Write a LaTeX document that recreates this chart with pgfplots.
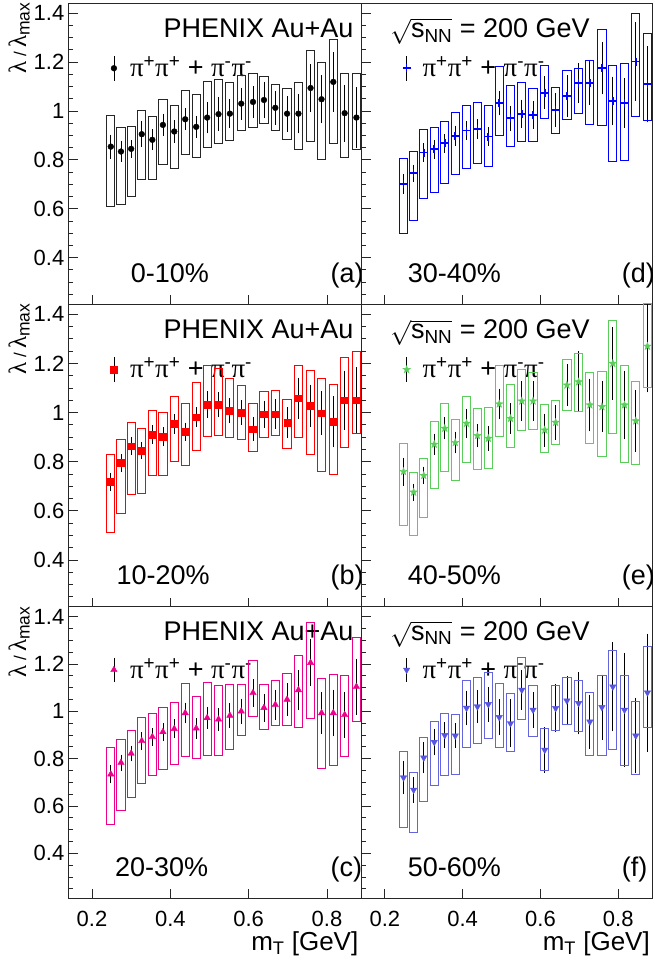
\documentclass[border=0pt]{standalone}
\usepackage{pgfplots}
\pgfplotsset{compat=1.18}
\usepackage{pgfplotstable}
\usepackage{fontspec}
\setmainfont{Liberation Sans}
\newfontfamily\grk{Liberation Serif}
\usetikzlibrary{plotmarks}

\definecolor{egreen}{RGB}{90,205,90}
\definecolor{fblue}{RGB}{85,85,225}
\definecolor{fbox}{RGB}{100,100,220}

% filled five-point star
\pgfdeclareplotmark{fstar}{%
  \pgfpathmoveto{\pgfpointpolar{90}{\pgfplotmarksize}}%
  \pgfpathlineto{\pgfpointpolar{126}{0.4\pgfplotmarksize}}%
  \pgfpathlineto{\pgfpointpolar{162}{\pgfplotmarksize}}%
  \pgfpathlineto{\pgfpointpolar{198}{0.4\pgfplotmarksize}}%
  \pgfpathlineto{\pgfpointpolar{234}{\pgfplotmarksize}}%
  \pgfpathlineto{\pgfpointpolar{270}{0.4\pgfplotmarksize}}%
  \pgfpathlineto{\pgfpointpolar{306}{\pgfplotmarksize}}%
  \pgfpathlineto{\pgfpointpolar{342}{0.4\pgfplotmarksize}}%
  \pgfpathlineto{\pgfpointpolar{18}{\pgfplotmarksize}}%
  \pgfpathlineto{\pgfpointpolar{54}{0.4\pgfplotmarksize}}%
  \pgfpathclose\pgfusepathqfillstroke}

% systematic box drawn upward from the lower edge, \boxh tall (pt)
\pgfdeclareplotmark{sysbox}{%
  \pgfpathrectangle{\pgfpoint{-4.1pt}{0pt}}{\pgfpoint{8.2pt}{\boxh pt}}%
  \pgfusepathqstroke}

% x  y  stat  syslow  syshigh
\pgfplotstableread{
x y e lo hi
0.248 0.854 0.041 0.609 0.981
0.274 0.834 0.033 0.619 0.933
0.300 0.845 0.029 0.652 0.936
0.327 0.905 0.044 0.718 1.000
0.354 0.882 0.034 0.718 0.978
0.381 0.943 0.038 0.779 1.045
0.410 0.916 0.038 0.765 1.022
0.438 0.966 0.036 0.822 1.084
0.466 0.935 0.038 0.811 1.069
0.494 0.973 0.056 0.852 1.120
0.523 0.987 0.060 0.868 1.127
0.552 0.989 0.050 0.880 1.116
0.581 1.030 0.057 0.920 1.146
0.611 1.037 0.057 0.933 1.152
0.639 1.045 0.067 0.950 1.141
0.668 1.013 0.061 0.922 1.109
0.698 0.989 0.065 0.884 1.090
0.727 0.989 0.072 0.841 1.118
0.758 1.094 0.089 0.877 1.246
0.786 1.048 0.090 0.800 1.200
0.816 1.119 0.113 0.865 1.294
0.845 0.991 0.108 0.811 1.155
0.875 0.973 0.116 0.841 1.155
}\tabA

\pgfplotstableread{
x y e lo hi
0.248 0.718 0.030 0.510 0.828
0.274 0.795 0.028 0.588 0.891
0.300 0.863 0.028 0.665 0.960
0.327 0.845 0.026 0.672 0.937
0.354 0.911 0.029 0.742 1.010
0.381 0.902 0.030 0.742 1.001
0.410 0.955 0.032 0.799 1.064
0.438 0.922 0.029 0.783 1.035
0.466 0.981 0.032 0.845 1.121
0.494 1.033 0.046 0.902 1.190
0.523 1.032 0.043 0.907 1.179
0.552 1.008 0.043 0.897 1.139
0.581 1.000 0.043 0.891 1.110
0.611 0.933 0.039 0.842 1.037
0.639 0.993 0.048 0.899 1.087
0.668 0.994 0.052 0.905 1.091
0.698 0.959 0.055 0.855 1.055
0.727 1.058 0.076 0.899 1.193
0.758 1.028 0.078 0.828 1.173
0.786 0.998 0.081 0.760 1.139
0.816 0.963 0.096 0.746 1.115
0.845 1.051 0.112 0.859 1.223
0.875 1.051 0.125 0.913 1.247
}\tabB

\pgfplotstableread{
x y e lo hi
0.248 0.734 0.030 0.520 0.848
0.274 0.783 0.026 0.583 0.883
0.300 0.822 0.025 0.637 0.918
0.327 0.875 0.028 0.696 0.973
0.354 0.892 0.030 0.728 0.991
0.381 0.913 0.030 0.755 1.017
0.410 0.926 0.032 0.777 1.037
0.438 0.993 0.035 0.808 1.118
0.466 0.928 0.035 0.801 1.062
0.494 0.972 0.038 0.813 1.123
0.523 0.966 0.040 0.813 1.108
0.552 0.982 0.045 0.837 1.114
0.581 1.000 0.045 0.896 1.114
0.611 1.078 0.050 0.977 1.214
0.639 1.015 0.050 0.925 1.115
0.668 1.028 0.055 0.938 1.130
0.698 1.050 0.060 0.938 1.161
0.727 1.090 0.075 0.931 1.235
0.758 1.205 0.090 0.970 1.375
0.786 0.993 0.080 0.759 1.139
0.816 0.993 0.090 0.773 1.154
0.845 0.985 0.090 0.808 1.151
0.875 1.104 0.110 0.956 1.311
}\tabC

\pgfplotstableread{
x y e lo hi
0.248 0.702 0.032 0.500 0.807
0.274 0.745 0.026 0.551 0.834
0.300 0.830 0.029 0.641 0.923
0.327 0.843 0.031 0.668 0.933
0.354 0.868 0.030 0.704 0.958
0.381 0.899 0.033 0.741 0.995
0.410 0.920 0.031 0.766 1.023
0.438 0.925 0.032 0.786 1.036
0.466 0.895 0.030 0.772 1.022
0.494 1.032 0.042 0.898 1.184
0.523 0.970 0.044 0.854 1.105
0.552 0.988 0.050 0.877 1.118
0.581 0.984 0.048 0.877 1.093
0.611 1.075 0.058 0.970 1.188
0.639 1.003 0.061 0.909 1.097
0.668 1.062 0.077 0.966 1.164
0.698 1.114 0.075 0.991 1.175
0.727 1.114 0.082 0.944 1.205
0.758 1.175 0.099 0.940 1.335
0.786 1.041 0.091 0.792 1.186
0.816 1.032 0.094 0.796 1.193
0.845 1.202 0.152 0.977 1.397
0.875 1.109 0.147 0.959 1.316
}\tabD

\pgfplotstableread{
x y e lo hi
0.248 0.760 0.049 0.539 0.875
0.274 0.676 0.027 0.499 0.756
0.300 0.744 0.028 0.575 0.815
0.327 0.871 0.035 0.692 0.964
0.354 0.936 0.037 0.760 1.035
0.381 0.878 0.036 0.722 0.972
0.410 0.956 0.051 0.798 1.064
0.438 0.906 0.039 0.769 1.017
0.466 0.895 0.043 0.773 1.022
0.494 1.035 0.054 0.902 1.192
0.523 0.976 0.054 0.859 1.114
0.552 1.047 0.073 0.929 1.175
0.581 1.047 0.072 0.932 1.162
0.611 0.929 0.059 0.837 1.031
0.639 0.960 0.062 0.871 1.051
0.668 1.112 0.078 1.010 1.217
0.698 1.125 0.116 1.006 1.240
0.727 1.031 0.099 0.875 1.163
0.758 1.024 0.095 0.821 1.166
0.786 1.200 0.141 0.916 1.373
0.816 1.031 0.132 0.798 1.193
0.845 0.966 0.117 0.787 1.125
0.875 1.270 0.180 1.102 1.442
}\tabE

\pgfplotstableread{
x y e lo hi
0.248 0.720 0.062 0.510 0.830
0.274 0.668 0.046 0.489 0.741
0.300 0.804 0.058 0.618 0.890
0.327 0.870 0.048 0.686 0.958
0.354 0.899 0.047 0.727 0.990
0.381 0.897 0.044 0.734 0.987
0.410 1.014 0.065 0.848 1.132
0.438 1.020 0.061 0.865 1.144
0.466 1.030 0.065 0.886 1.163
0.494 0.975 0.067 0.846 1.116
0.523 0.949 0.093 0.830 1.076
0.552 1.090 0.074 0.966 1.228
0.581 1.006 0.068 0.893 1.111
0.611 0.837 0.088 0.752 0.928
0.639 1.013 0.092 0.917 1.107
0.668 1.045 0.096 0.946 1.142
0.698 1.034 0.123 0.914 1.132
0.727 0.956 0.106 0.813 1.079
0.758 1.017 0.130 0.813 1.151
0.786 1.104 0.180 0.839 1.255
0.816 1.006 0.232 0.770 1.152
0.845 0.897 0.151 0.731 1.041
0.875 1.079 0.241 0.931 1.273
}\tabF

% systematic boxes as marks at the lower edge; #3 = pt per unit of y
\newcommand\sysboxes[3]{%
  \addplot[only marks, mark=sysbox, color=#2, forget plot,
    mark options={line width=1pt, draw=#2, fill=none, solid},
    visualization depends on={(\thisrow{hi}-\thisrow{lo})*#3 \as \boxh}]
    table[x=x, y=lo] {#1};
}

% points with stat. errors, plus the legend sample
\newcommand\points[2]{%
  \addplot[#2, only marks, error bars/.cd, y dir=both, y explicit,
    error bar style={line width=0.8pt, color=black},
    error mark options={color=black, line width=0.8pt, mark size=2pt}]
    table[x=x, y=y, y error=e] {#1};
  \addplot[#2, only marks, error bars/.cd, y dir=both, y explicit,
    error bar style={line width=0.8pt, color=black}, error mark=none]
    coordinates {(0.256,1.175) +- (0,0.052)};
}

\newcommand\txt{\fontsize{27}{32}\selectfont}
\newcommand\pipi{{\grk π}\textsuperscript{+}{\grk π}\textsuperscript{+} + {\grk π}\textsuperscript{-}{\grk π}\textsuperscript{-}}
\newcommand\sqrts{$\sqrt{\mbox{s\textsubscript{NN}}}$ = 200 GeV}
\newcommand\ylab{{\grk λ}\,{\fontsize{17}{17}\selectfont /}\,{\grk λ}\textsubscript{max}}

\pgfplotsset{
  panel/.style={scale only axis, anchor=south west,
    xmin=0.14, xmax=0.888, ymin=0.21, ymax=1.442,
    xtick={0.2,0.4,0.6,0.8}, ytick={0.4,0.6,0.8,1,1.2,1.4},
    minor ytick={0.25,0.3,0.35,0.45,0.5,0.55,0.65,0.7,0.75,0.85,0.9,0.95,1.05,1.1,1.15,1.25,1.3,1.35},
    xticklabels={}, yticklabels={},
    tick align=inside, xtick pos=bottom, ytick pos=left,
    major tick length=9pt, minor tick length=4.5pt,
    tick style={line width=0.8pt, color=black!85},
    axis line style={line width=0.9pt, color=black!85},
    tick label style={font=\fontsize{22}{26}\selectfont},
    xticklabel style={inner sep=0pt, anchor=north, yshift=-12.7pt},
    yticklabel style={inner sep=0pt, anchor=east, xshift=-4pt}},
  lcol/.style={panel, at={(68.5pt,#1)}, width=293pt,
    yticklabels={0.4,0.6,0.8,1,1.2,1.4}},
  rcol/.style={panel, at={(361.5pt,#1)}, width=291pt},
  bottomrow/.style={xticklabels={0.2,0.4,0.6,0.8}},
  mA/.style={color=black, mark=*, mark size=2.9pt},
  mB/.style={color=red, mark=square*, mark size=3.3pt},
  mC/.style={color=magenta, mark=triangle*, mark size=3.7pt},
  mD/.style={color=blue, mark=+, mark size=4pt, mark options={line width=1.7pt}},
  mE/.style={color=egreen, mark=fstar, mark size=4pt},
  mF/.style={color=fblue, mark=triangle*, mark size=3.7pt, mark options={rotate=180}},
}

\begin{document}
\begin{tikzpicture}
\useasboundingbox (0,0) rectangle (654pt,963pt);

% row 1  (301pt tall: 244.3pt per unit)
\begin{axis}[lcol=659pt, height=301pt]
  \sysboxes{\tabA}{black!85}{244.3}
  \points{\tabA}{mA}
  \node[anchor=base west, font=\txt] at (axis cs:0.374,1.30) {PHENIX Au+Au};
  \node[anchor=base west, font=\txt] at (axis cs:0.288,1.143) {\pipi};
  \node[anchor=base west, font=\txt] at (axis cs:0.290,0.30) {0-10\%};
  \node[anchor=base west, font=\txt] at (axis cs:0.80,0.30) {(a)};
\end{axis}
\begin{axis}[rcol=659pt, height=301pt]
  \sysboxes{\tabD}{blue}{244.3}
  \points{\tabD}{mD}
  \node[anchor=base west, font=\txt] at (axis cs:0.205,1.30) {\sqrts};
  \node[anchor=base west, font=\txt] at (axis cs:0.288,1.143) {\pipi};
  \node[anchor=base west, font=\txt] at (axis cs:0.250,0.30) {30-40\%};
  \node[anchor=base west, font=\txt] at (axis cs:0.80,0.30) {(d)};
\end{axis}

% row 2  (302.7pt tall: 245.7pt per unit)
\begin{axis}[lcol=356.3pt, height=302.7pt]
  \sysboxes{\tabB}{red}{245.7}
  \points{\tabB}{mB}
  \node[anchor=base west, font=\txt] at (axis cs:0.374,1.30) {PHENIX Au+Au};
  \node[anchor=base west, font=\txt] at (axis cs:0.288,1.143) {\pipi};
  \node[anchor=base west, font=\txt] at (axis cs:0.254,0.30) {10-20\%};
  \node[anchor=base west, font=\txt] at (axis cs:0.80,0.30) {(b)};
\end{axis}
\begin{axis}[rcol=356.3pt, height=302.7pt]
  \sysboxes{\tabE}{egreen}{245.7}
  \points{\tabE}{mE}
  \node[anchor=base west, font=\txt] at (axis cs:0.205,1.30) {\sqrts};
  \node[anchor=base west, font=\txt] at (axis cs:0.288,1.143) {\pipi};
  \node[anchor=base west, font=\txt] at (axis cs:0.250,0.30) {40-50\%};
  \node[anchor=base west, font=\txt] at (axis cs:0.80,0.30) {(e)};
\end{axis}

% row 3  (291.6pt tall: 236.7pt per unit)
\begin{axis}[lcol=64.7pt, height=291.6pt, bottomrow]
  \sysboxes{\tabC}{magenta}{236.7}
  \points{\tabC}{mC}
  \node[anchor=base west, font=\txt] at (axis cs:0.374,1.30) {PHENIX Au+Au};
  \node[anchor=base west, font=\txt] at (axis cs:0.288,1.14) {\pipi};
  \node[anchor=base west, font=\txt] at (axis cs:0.250,0.30) {20-30\%};
  \node[anchor=base west, font=\txt] at (axis cs:0.80,0.30) {(c)};
\end{axis}
\begin{axis}[rcol=64.7pt, height=291.6pt, bottomrow]
  \sysboxes{\tabF}{fbox}{236.7}
  \points{\tabF}{mF}
  \node[anchor=base west, font=\txt] at (axis cs:0.205,1.30) {\sqrts};
  \node[anchor=base west, font=\txt] at (axis cs:0.288,1.14) {\pipi};
  \node[anchor=base west, font=\txt] at (axis cs:0.250,0.30) {50-60\%};
  \node[anchor=base west, font=\txt] at (axis cs:0.80,0.30) {(f)};
\end{axis}

% axis titles
\foreach \yy in {961,660,357}
  \node[rotate=90, anchor=base east, inner sep=0pt, font=\fontsize{25}{28}\selectfont] at (26pt,\yy pt) {\ylab};
\node[anchor=base east, inner sep=0pt, font=\fontsize{26}{30}\selectfont] at (358.5pt,12.3pt) {m\textsubscript{T} [GeV]};
\node[anchor=base east, inner sep=0pt, font=\fontsize{26}{30}\selectfont] at (650pt,12.3pt) {m\textsubscript{T} [GeV]};
\end{tikzpicture}
\end{document}
